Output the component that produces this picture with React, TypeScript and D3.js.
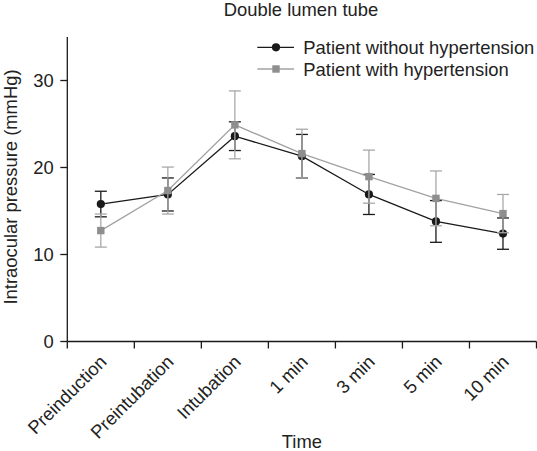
import React from "react";
import * as d3 from "d3";

const categories = ["Preinduction", "Preintubation", "Intubation", "1 min", "3 min", "5 min", "10 min"];
const withoutMean = [15.8, 16.9, 23.6, 21.3, 16.9, 13.8, 12.4];
const withoutSD = [1.47, 1.9, 1.65, 2.5, 2.3, 2.4, 1.8];
const withMean = [12.75, 17.35, 24.9, 21.6, 18.95, 16.45, 14.7];
const withSD = [1.9, 2.7, 3.9, 2.8, 3.05, 3.15, 2.2];
const yTicks = [0, 10, 20, 30];
const seriesNames = ["Patient without hypertension", "Patient with hypertension"];
const title = "Double lumen tube";
const xTitle = "Time";
const yTitle = "Intraocular pressure (mmHg)";

const W = 537;
const H = 451;
const FONT = "'Liberation Sans', Arial, Helvetica, sans-serif";
const FS = 18.4;
const BLACK = "#1a1a1a";
const GREY_MARK = "#8e8e8e";
const GREY_LINE = "#a2a2a2";
const GREY_ERR = "#a8a8a8";

export default function App() {
  const x = d3.scaleBand<string>().domain(categories).range([67.3, 536.5]).padding(0);
  const y = d3.scaleLinear().domain([0, 35]).range([341.5, 37]);
  const cx = (c: string) => (x(c) as number) + x.bandwidth() / 2;
  const line = d3
    .line<number>()
    .x((_, i) => cx(categories[i]))
    .y((v) => y(v));

  const series = [
    { name: seriesNames[0], mean: withoutMean, sd: withoutSD, line: BLACK, mark: BLACK, err: BLACK, shape: "circle" },
    { name: seriesNames[1], mean: withMean, sd: withSD, line: GREY_LINE, mark: GREY_MARK, err: GREY_ERR, shape: "square" },
  ];

  const marker = (shape: string, px: number, py: number, fill: string, key: string) =>
    shape === "circle" ? (
      <circle key={key} cx={px} cy={py} r={4.1} fill={fill} />
    ) : (
      <rect key={key} x={px - 3.7} y={py - 3.7} width={7.4} height={7.4} fill={fill} />
    );

  const xEdges = [...categories.map((c) => x(c) as number), x.range()[1]];
  const x0 = x.range()[0];
  const y0 = y(0);

  return (
    <svg
      width={W}
      height={H}
      style={{ position: "absolute", left: 0, top: 0, background: "#fff" }}
      fontFamily={FONT}
    >
      <rect width={W} height={H} fill="#fff" />
      <text x={301} y={16} textAnchor="middle" fontSize={FS} fill="#222">
        {title}
      </text>

      {/* y axis */}
      <line x1={x0} x2={x0} y1={y0} y2={y(35)} stroke={BLACK} strokeWidth={1.3} />
      {yTicks.map((t) => (
        <g key={t}>
          <line x1={x0 - 7} x2={x0} y1={y(t)} y2={y(t)} stroke={BLACK} strokeWidth={1.3} />
          <text x={x0 - 13.5} y={y(t)} dy="0.36em" textAnchor="end" fontSize={FS} fill="#222">
            {t}
          </text>
        </g>
      ))}
      {/* x axis */}
      <line x1={x0} x2={x.range()[1]} y1={y0} y2={y0} stroke={BLACK} strokeWidth={1.3} />
      {xEdges.map((e, i) => (
        <line key={i} x1={e} x2={e} y1={y0} y2={y0 + 7} stroke={BLACK} strokeWidth={1.3} />
      ))}
      {categories.map((c) => (
        <text
          key={c}
          transform={`translate(${cx(c) + 7},${363}) rotate(-45)`}
          textAnchor="end"
          fontSize={FS}
          fill="#222"
        >
          {c}
        </text>
      ))}
      <text x={(x0 + x.range()[1]) / 2} y={448} textAnchor="middle" fontSize={FS} fill="#222">
        {xTitle}
      </text>
      <text
        transform={`translate(16.5,${187}) rotate(-90)`}
        textAnchor="middle"
        fontSize={FS}
        fill="#222"
      >
        {yTitle}
      </text>

      {/* series */}
      {series.map((s, si) => (
        <g key={si}>
          {s.mean.map((m, i) => {
            const px = cx(categories[i]);
            const top = y(m + s.sd[i]);
            const bot = y(m - s.sd[i]);
            return (
              <g key={i} stroke={s.err} strokeWidth={1.3}>
                <line x1={px} x2={px} y1={top} y2={bot} />
                <line x1={px - 6} x2={px + 6} y1={top} y2={top} />
                <line x1={px - 6} x2={px + 6} y1={bot} y2={bot} />
              </g>
            );
          })}
          <path d={line(s.mean) || ""} fill="none" stroke={s.line} strokeWidth={1.3} />
          {s.mean.map((m, i) => marker(s.shape, cx(categories[i]), y(m), s.mark, `m${i}`))}
        </g>
      ))}

      {/* legend */}
      {series.map((s, si) => {
        const ly = [47.3, 69][si];
        const tb = [54, 75.5][si];
        return (
          <g key={si}>
            <line x1={257.3} x2={294} y1={ly} y2={ly} stroke={s.line} strokeWidth={1.3} />
            {marker(s.shape, 276, ly, s.mark, "lm")}
            <text x={303.3} y={tb} fontSize={FS} fill="#222">
              {s.name}
            </text>
          </g>
        );
      })}
    </svg>
  );
}
